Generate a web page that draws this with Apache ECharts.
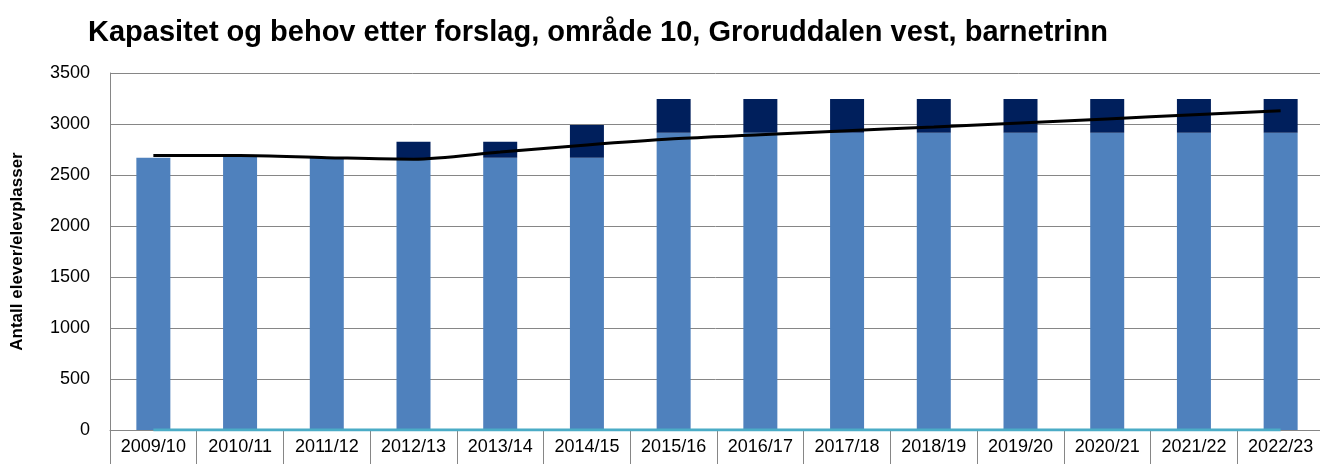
<!DOCTYPE html>
<html>
<head>
<meta charset="utf-8">
<script src="https://cdn.jsdelivr.net/npm/echarts@6/dist/echarts.min.js"></script>
<style>
  html, body { margin: 0; padding: 0; background: #fff; }
  #chart { width: 1320px; height: 464px; }
</style>
</head>
<body>
<div id="chart"></div>
<script>
const categories = ['2009/10', '2010/11', '2011/12', '2012/13', '2013/14', '2014/15', '2015/16',
    '2016/17', '2017/18', '2018/19', '2019/20', '2020/21', '2021/22', '2022/23'];
// capacity today (light) and added capacity (dark), stacked
const kapasitet = [2670, 2680, 2670, 2660, 2670, 2670, 2915, 2915, 2915, 2915, 2915, 2915, 2915, 2915];
const nyKapasitet = [0, 0, 0, 165, 155, 320, 330, 330, 330, 330, 330, 330, 330, 330];
// need (black line)
const behov = [2690, 2690, 2670, 2655, 2725, 2795, 2855, 2895, 2935, 2970, 3010, 3050, 3090, 3130];
// baseline series drawn at zero
const nullLinje = [0, 0, 0, 0, 0, 0, 0, 0, 0, 0, 0, 0, 0, 0];
const yTicks = { min: 0, max: 3500, interval: 500 };

const fontFamily = 'Liberation Sans, Arial, sans-serif';
const gridColor = '#868686';

const myChart = echarts.init(document.getElementById('chart'));
const option = {
    animation: false,
    title: {
        text: 'Kapasitet og behov etter forslag, område 10, Groruddalen vest, barnetrinn',
        left: 83,
        top: 13,
        textStyle: {
            fontFamily: fontFamily,
            fontWeight: 'bold',
            fontSize: 29,
            color: '#000'
        }
    },
    grid: {
        left: 110,
        top: 73,
        width: 1214,
        height: 357,
        outerBoundsMode: 'none'
    },
    xAxis: {
        type: 'category',
        data: categories,
        boundaryGap: true,
        axisLine: { lineStyle: { color: gridColor, width: 1 } },
        axisTick: {
            show: true,
            interval: 0,
            length: 34,
            lineStyle: { color: gridColor }
        },
        axisLabel: {
            interval: 0,
            margin: 8,
            fontSize: 18,
            fontFamily: fontFamily,
            color: '#000'
        }
    },
    yAxis: {
        type: 'value',
        min: yTicks.min,
        max: yTicks.max,
        interval: yTicks.interval,
        name: 'Antall elever/elevplasser',
        nameLocation: 'middle',
        nameGap: 84,
        nameTextStyle: {
            fontFamily: fontFamily,
            fontWeight: 'bold',
            fontSize: 17,
            color: '#000'
        },
        axisLine: { show: true, lineStyle: { color: gridColor } },
        axisTick: { show: false },
        axisLabel: {
            margin: 20,
            fontSize: 18,
            fontFamily: fontFamily,
            color: '#000',
            formatter: function (v) { return String(v); }
        },
        splitLine: { lineStyle: { color: gridColor, width: 1 } }
    },
    series: [
        {
            name: 'Kapasitet',
            type: 'bar',
            stack: 'kap',
            barWidth: 34,
            itemStyle: { color: '#4F81BD' },
            data: kapasitet
        },
        {
            name: 'Ny kapasitet',
            type: 'bar',
            stack: 'kap',
            barWidth: 34,
            itemStyle: { color: '#001F5C' },
            data: nyKapasitet
        },
        {
            name: 'Null',
            type: 'line',
            symbol: 'none',
            lineStyle: { color: '#4BACC6', width: 3 },
            z: 4,
            data: nullLinje
        },
        {
            name: 'Behov',
            type: 'line',
            smooth: 0.3,
            symbol: 'none',
            lineStyle: { color: '#000', width: 3 },
            z: 5,
            data: behov
        }
    ]
};
myChart.setOption(option);

window.addEventListener('resize', function () {
    myChart.resize();
});
</script>
</body>
</html>
